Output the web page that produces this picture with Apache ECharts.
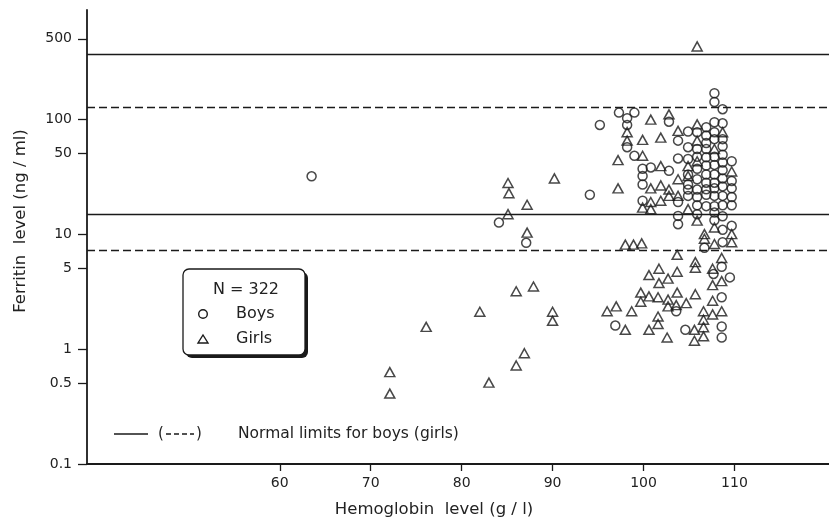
<!DOCTYPE html>
<html><head><meta charset="utf-8">
<script src="https://cdn.jsdelivr.net/npm/echarts@6/dist/echarts.min.js"></script>
<style>html,body{margin:0;padding:0;background:#fff}#c{width:829px;height:522px}</style>
</head><body><div id="c"></div>
<script>
// Tick values
const xTicks = [60, 70, 80, 90, 100, 110];
const yTicks = [0.1, 0.5, 1, 5, 10, 50, 100, 500];
// Normal limits (ng/ml)
const boysLimits = [15, 370];
const girlsLimits = [7.2, 126];
// Points: [hemoglobin g/l, ferritin ng/ml]
const boys = [
[63.5,31.8],[84.1,12.6],[87.1,8.4],[94.1,22],[95.2,89],
[97.3,114],[99.0,114],[98.2,102],[98.2,89],[98.2,57],[99.0,48],
[99.9,37],[99.9,32],[99.9,27],[99.9,19.5],
[100.8,38],
[102.8,95],[102.8,35.5],
[103.8,65],[103.8,45.5],[103.8,19],[103.8,14.4],[103.8,12.2],
[104.9,78],[104.9,57],[104.9,45],[104.9,33],[104.9,27],[104.9,24.4],[104.9,21.5],
[105.9,77],[105.9,55],[105.9,47],[105.9,37],[105.9,30],[105.9,24.4],[105.9,21],[105.9,17.8],[105.9,14.9],
[106.9,85],[106.9,72],[106.9,62],[106.9,55],[106.9,46.5],[106.9,39.5],[106.9,33],[106.9,28],[106.9,24.5],[106.9,22],[106.9,17.5],[106.7,7.6],
[107.8,168],[107.8,141],[107.8,94],[107.8,77],[107.8,67],[107.8,47],[107.8,40],[107.8,33],[107.8,28],[107.8,25],[107.8,21.5],[107.8,17.5],[107.8,15.4],[107.8,13.2],[107.7,4.5],
[108.7,122],[108.7,92],[108.7,67],[108.7,58],[108.7,49],[108.7,42],[108.7,36],[108.7,30.5],[108.7,26],[108.7,21.5],[108.7,17.8],[108.7,14.3],[108.7,10.9],[108.7,8.5],[108.6,5.2],[108.6,2.82],[108.6,1.57],[108.6,1.26],
[109.7,43],[109.7,29],[109.7,25],[109.7,21],[109.7,17.8],[109.7,11.8],[109.5,4.2],
[103.6,2.13],[104.6,1.47],[96.9,1.6]
];
const girls = [
[72.1,0.63],[72.1,0.41],[76.1,1.56],[82.0,2.11],[83.0,0.51],[85.1,27.8],[85.2,22.7],[85.1,14.9],[86.0,3.18],[86.0,0.72],[86.9,0.92],[87.2,18],[87.2,10.3],[87.9,3.5],[90.2,30.5],[90.0,2.11],[90.0,1.76],
[105.9,429],
[97.2,44],[97.2,25],[98.2,77],[98.2,65],
[99.9,66],[99.9,48],[99.9,17],
[100.8,99],[100.8,25],[100.8,19],[100.8,16.5],
[101.9,69],[101.9,39],[101.9,26.5],[101.9,19.5],
[102.8,110],[102.8,24.4],[102.8,21.5],
[103.8,79],[103.8,30],[103.8,21.5],
[104.9,39],[104.9,32],[104.9,16.5],
[105.9,90],[105.9,65],[105.9,43],[105.9,13.1],
[107.8,55],[108.7,77],[109.7,35],
[106.7,10],[106.7,9.1],
[107.8,11.4],[107.8,8.2],
[109.7,10],[109.7,8.5],
[98.0,8.1],[98.9,8.1],[99.8,8.3],
[103.7,6.6],[105.7,5.7],[105.7,5.1],[108.6,6.2],[107.6,5.0],[107.6,3.6],[108.6,3.9],
[100.6,4.4],[101.7,5.0],[102.7,4.1],[103.7,4.7],[101.7,3.75],
[99.7,3.1],[100.6,2.87],[101.6,2.82],[102.7,2.69],[103.7,3.1],[105.7,3.0],
[99.7,2.58],[102.7,2.35],[103.6,2.41],[104.7,2.51],
[96.0,2.13],[97.0,2.35],[98.7,2.13],
[107.6,2.63],[106.6,2.13],[107.6,2.0],[108.6,2.13],
[106.6,1.8],[106.6,1.55],[106.6,1.29],[105.6,1.47],[105.6,1.18],
[101.6,1.92],[101.6,1.65],[100.6,1.47],[102.6,1.26],[98.0,1.47]
];

const FONT = '"DejaVu Sans", "Liberation Sans", Arial, sans-serif';
const INK = '#1a1a1a';
const TXT = '#222';
const chart = echarts.init(document.getElementById('c'));
const markStyle = (dash) => ({
  silent: true, symbol: 'none', label: {show: false},
  lineStyle: {color: INK, width: 1.3, type: dash ? [8, 4] : 'solid'}
});
chart.setOption({
  animation: false,
  backgroundColor: '#fff',
  grid: {left: 87, right: 0, top: 10, bottom: 58},
  xAxis: {
    type: 'value', min: 38.8, max: 120.4,
    axisLine: {lineStyle: {color: INK, width: 1.8}},
    axisTick: {customValues: xTicks, length: 7, lineStyle: {color: INK, width: 1.3}},
    axisLabel: {customValues: xTicks, margin: 12, fontSize: 14, color: TXT, fontFamily: FONT},
    splitLine: {show: false}
  },
  yAxis: {
    type: 'log', logBase: 10, min: 0.1, max: 890,
    axisLine: {show: true, lineStyle: {color: INK, width: 1.8}},
    axisTick: {show: true, customValues: yTicks, length: 9, lineStyle: {color: INK, width: 1.3}},
    axisLabel: {customValues: yTicks, margin: 15, fontSize: 14, color: TXT, fontFamily: FONT,
      formatter: v => String(Math.round(v * 10) / 10)},
    splitLine: {show: false}
  },
  series: [
    {
      name: 'Boys', type: 'scatter', data: boys, symbol: 'circle', symbolSize: 9,
      itemStyle: {color: 'rgba(255,255,255,0)', borderColor: INK, borderWidth: 1.5},
      markLine: Object.assign(markStyle(false), {data: boysLimits.map(v => ({yAxis: v}))})
    },
    {
      name: 'Girls', type: 'scatter', data: girls, symbol: 'triangle', symbolSize: [10, 9],
      itemStyle: {color: 'rgba(255,255,255,0)', borderColor: INK, borderWidth: 1.5},
      markLine: Object.assign(markStyle(true), {data: girlsLimits.map(v => ({yAxis: v}))})
    }
  ],
  graphic: [
    {type: 'text', x: 434, y: 510, style: {text: 'Hemoglobin  level (g / l)', fontSize: 16.5, fontFamily: FONT, fill: TXT, align: 'center', verticalAlign: 'middle'}},
    {type: 'text', x: 21, y: 221, rotation: Math.PI / 2, style: {text: 'Ferritin  level (ng / ml)', fontSize: 16.5, fontFamily: FONT, fill: TXT, align: 'center', verticalAlign: 'middle'}},
    {type: 'rect', shape: {x: 186, y: 272, width: 122, height: 86, r: 6}, style: {fill: INK}},
    {type: 'rect', shape: {x: 183, y: 269, width: 122, height: 86, r: 6}, style: {fill: '#fff', stroke: INK, lineWidth: 1.3}},
    {type: 'text', x: 246, y: 290, style: {text: 'N = 322', fontSize: 16, fontFamily: FONT, fill: TXT, align: 'center', verticalAlign: 'middle'}},
    {type: 'circle', shape: {cx: 203, cy: 314, r: 4.3}, style: {fill: 'none', stroke: INK, lineWidth: 1.4}},
    {type: 'text', x: 236, y: 314, style: {text: 'Boys', fontSize: 16, fontFamily: FONT, fill: TXT, align: 'left', verticalAlign: 'middle'}},
    {type: 'polygon', shape: {points: [[198, 343], [208, 343], [203, 335]]}, style: {fill: 'none', stroke: INK, lineWidth: 1.4}},
    {type: 'text', x: 236, y: 339, style: {text: 'Girls', fontSize: 16, fontFamily: FONT, fill: TXT, align: 'left', verticalAlign: 'middle'}},
    {type: 'line', shape: {x1: 114, y1: 434, x2: 148, y2: 434}, style: {stroke: INK, lineWidth: 1.3}},
    {type: 'text', x: 158, y: 434, style: {text: '(', fontSize: 15, fontFamily: FONT, fill: TXT, align: 'left', verticalAlign: 'middle'}},
    {type: 'line', shape: {x1: 166, y1: 434, x2: 194, y2: 434}, style: {stroke: INK, lineWidth: 1.3, lineDash: [5, 3]}},
    {type: 'text', x: 196, y: 434, style: {text: ')', fontSize: 15, fontFamily: FONT, fill: TXT, align: 'left', verticalAlign: 'middle'}},
    {type: 'text', x: 238, y: 434, style: {text: 'Normal limits for boys (girls)', fontSize: 15.5, fontFamily: FONT, fill: TXT, align: 'left', verticalAlign: 'middle'}}
  ]
});
</script></body></html>
